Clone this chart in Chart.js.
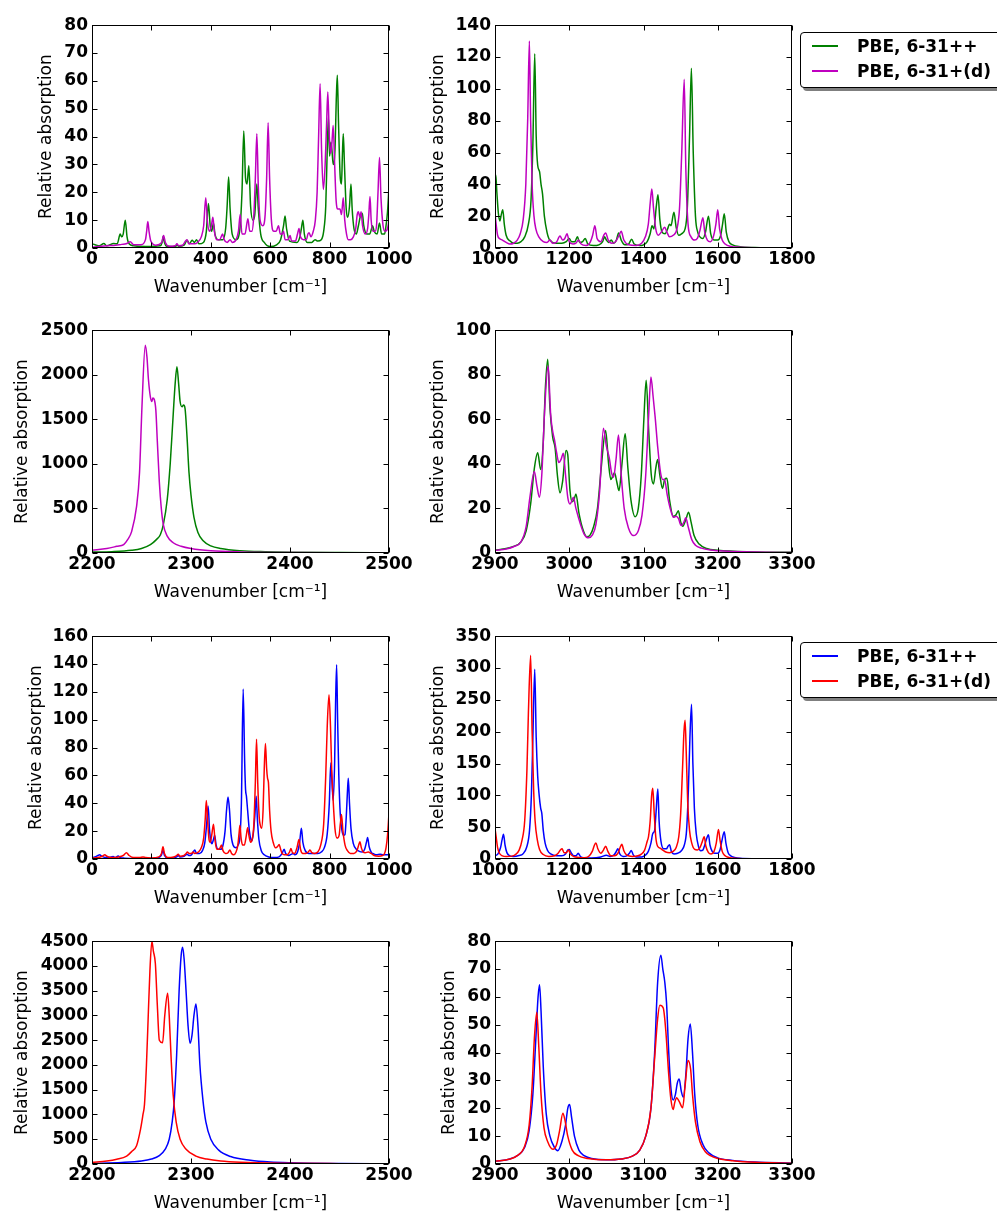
<!DOCTYPE html>
<html>
<head>
<meta charset="utf-8">
<script src="https://cdn.jsdelivr.net/npm/chart.js@4.4.0/dist/chart.umd.min.js"></script>
<style>
  body { margin: 0; background: #fff; font-family: 'DejaVu Sans', sans-serif; }
  #page { position: relative; width: 997px; height: 1213px; overflow: hidden; background: #fff; }
  #page canvas { position: absolute; }
  .legend { position: absolute; left: 800px; width: 230px; height: 56px; box-sizing: border-box;
            border: 1px solid #000; border-radius: 4px; background: #fff; box-shadow: 3px 3px 0 rgba(0,0,0,0.5); }
  .legend .item { position: absolute; left: 56px; font: bold 17px 'DejaVu Sans'; line-height: 20px; white-space: nowrap; color: #000; }
  .legend .swatch { position: absolute; left: -45px; top: 9px; width: 26px; height: 1.5px; }
</style>
</head>
<body>
<div id="page"></div>
<script>
// Series labels (legends)
const labelsTop = ['PBE, 6-31++', 'PBE, 6-31+(d)'];
const labelsBottom = ['PBE, 6-31++', 'PBE, 6-31+(d)'];

// Tick labels per panel
const xTicksA = [0, 200, 400, 600, 800, 1000];
const xTicksB = [1000, 1200, 1400, 1600, 1800];
const xTicksC = [2200, 2300, 2400, 2500];
const xTicksD = [2900, 3000, 3100, 3200, 3300];
const yTicks1 = [0, 10, 20, 30, 40, 50, 60, 70, 80];
const yTicks2 = [0, 20, 40, 60, 80, 100, 120, 140];
const yTicks3 = [0, 500, 1000, 1500, 2000, 2500];
const yTicks4 = [0, 20, 40, 60, 80, 100];
const yTicks5 = [0, 20, 40, 60, 80, 100, 120, 140, 160];
const yTicks6 = [0, 50, 100, 150, 200, 250, 300, 350];
const yTicks7 = [0, 500, 1000, 1500, 2000, 2500, 3000, 3500, 4000, 4500];
const yTicks8 = [0, 10, 20, 30, 40, 50, 60, 70, 80];

// [wavenumber, absorption]
const g1 = [[0,1.5],[10,1.2],[25,0.8],[40,1.6],[50,0.8],[73,1.6],[85,1.5],[95,5],[100,4],[105,5],[112,10],[118,4],[125,1.5],[140,0.8],[180,0.5],[230,0.8],[236,2],[240,4.2],[244,2],[252,0.6],[280,0.5],[286,1],[292,0.6],[310,1],[320,2.8],[328,1.5],[337,2.8],[345,2],[352,3],[360,1.5],[375,2],[385,6],[392,16],[398,8],[403,6],[409,9],[414,5],[425,3],[440,3],[450,7],[455,15],[460,25.5],[465,14],[472,5],[485,3],[497,6],[505,20],[511,42],[517,25],[522,23],[528,29.5],[534,15],[542,10],[548,12],[555,23],[560,14],[568,5],[580,2],[600,0.5],[620,1],[635,3],[645,8],[650,11.5],[655,7],[665,2.5],[690,2],[700,4],[705,7],[710,10],[715,5],[725,2],[740,2],[751,3],[760,2.5],[772,3],[780,6],[787,15],[792,35],[796,47],[800,33],[804,38],[808,35],[812,30],[818,35],[823,55],[826,62],[830,45],[836,25],[840,23],[843,33],[846,41],[850,30],[856,14],[861,11],[867,15],[872,23],[876,14],[882,7],[890,5],[897,8],[905,12],[910,12.5],[915,8],[925,5],[935,5],[945,8],[950,6],[960,5],[968,9],[975,5],[985,5],[990,8],[995,13],[1000,22]];
const m1 = [[0,0.3],[20,0.5],[50,0.8],[80,1],[100,1.3],[115,1.5],[129,2.2],[140,1.2],[165,1.2],[180,3],[184,6],[188,9.5],[192,6],[198,2.5],[215,1],[235,2],[241,4.5],[247,2],[260,0.6],[280,0.8],[286,1.5],[292,0.8],[305,1],[315,2.5],[320,3],[326,1.5],[335,1.5],[345,1.5],[355,2],[368,4],[376,8],[383,18],[389,9],[396,6],[402,8],[407,11],[412,6],[420,3],[430,3],[440,5],[445,3],[455,2],[465,3],[472,2],[485,3],[493,6],[499,12],[505,5],[515,5],[525,10.5],[531,6],[538,6],[545,12],[550,25],[555,41],[560,22],[566,10],[575,8],[583,12],[588,25],[593,45],[598,25],[604,10],[612,6],[620,6],[628,8],[634,5],[640,5],[645,6],[650,3],[660,3],[667,4.5],[672,2.5],[685,2.5],[692,5],[697,7],[702,4],[712,3],[722,3],[727,5],[731,5.5],[737,4],[745,6],[752,10],[758,20],[763,40],[768,59],[773,35],[779,21],[785,30],[790,45],[794,56],[799,40],[804,34],[808,38],[812,44],[817,30],[822,17],[828,14],[835,14],[840,12],[846,18],[851,10],[857,5],[863,3],[870,3],[880,4],[888,7],[893,12],[897,13],[902,11],[906,13],[911,8],[920,5],[928,7],[932,12],[936,18.5],[940,10],[946,6],[953,6],[958,8],[963,20],[968,32.5],[973,18],[980,8],[987,6],[995,7],[1000,10]];

const g2 = [[1000,44],[1002,46],[1005,35],[1009,22],[1013,17],[1017,21],[1021,24],[1025,15],[1030,8],[1040,4.5],[1050,3],[1060,3],[1070,4],[1080,7],[1090,15],[1097,30],[1102,65],[1107,122],[1111,70],[1115,52],[1120,48],[1124,40],[1128,34],[1133,20],[1140,10],[1145,6],[1150,4.5],[1155,3.5],[1165,3],[1180,3],[1192,4],[1200,6],[1206,4],[1215,4],[1222,7],[1228,3.5],[1236,4],[1243,6],[1250,2.5],[1265,1.5],[1280,2],[1290,4],[1295,7],[1300,5],[1306,3.5],[1313,5],[1320,3],[1327,5],[1333,9.5],[1340,5],[1350,2],[1360,2.5],[1368,5.5],[1375,2.5],[1390,1.5],[1400,2],[1410,4],[1418,9],[1423,14],[1428,12],[1434,25],[1439,33.5],[1444,18],[1450,10],[1458,9],[1465,12],[1470,15],[1474,14],[1482,22.5],[1488,13],[1495,8],[1503,9],[1512,12],[1518,25],[1524,70],[1529,113],[1534,60],[1540,20],[1546,10],[1552,7],[1560,6],[1567,10],[1575,20],[1581,9],[1590,5],[1600,5],[1608,8],[1613,15],[1617.5,21.5],[1623,10],[1630,4],[1640,2],[1660,0.8],[1700,0.3],[1750,0.15],[1800,0.1]];
const m2 = [[1000,22],[1003,15],[1007,8],[1012,6],[1020,5],[1030,3.5],[1040,2.5],[1050,3],[1060,5],[1068,9],[1076,18],[1083,40],[1088,80],[1092.6,130],[1096,80],[1100,40],[1105,20],[1110,12],[1118,7],[1130,4],[1140,3.5],[1148,5],[1155,3],[1165,3.5],[1175,7.5],[1182,5],[1188,6],[1194,9],[1200,4],[1210,2.5],[1218,3],[1225,5],[1232,2.5],[1245,1.5],[1255,3],[1263,8],[1269,14],[1275,6],[1285,4],[1293,8],[1298,9.5],[1305,5],[1315,3],[1325,4],[1334,8],[1340,10.5],[1347,5],[1360,2],[1380,1.5],[1395,3],[1405,7],[1413,15],[1418,28],[1422.5,37],[1427,25],[1433,12],[1440,8],[1448,10],[1457,13],[1463,10],[1470,7],[1480,8],[1490,12],[1497,25],[1503,60],[1509.7,106],[1514,50],[1520,15],[1528,7],[1538,5],[1545,6],[1552,11],[1560,19],[1565,10],[1572,5],[1580,4],[1588,7],[1595,15],[1600,24],[1605,12],[1612,5],[1620,2.5],[1635,1],[1660,0.5],[1700,0.2],[1800,0.1]];

const g3 = [[2200,10],[2220,15],[2240,30],[2250,50],[2259,93],[2265,150],[2269,204],[2272,315],[2276,600],[2279,1000],[2282,1550],[2284,1900],[2285.8,2090],[2287.5,1900],[2289,1700],[2291,1640],[2292.5,1660],[2294,1620],[2296,1300],[2298,900],[2300,650],[2303,400],[2307,230],[2312,140],[2320,80],[2330,50],[2350,25],[2375,14],[2400,9],[2450,5],[2500,3]];
const m3 = [[2200,30],[2215,50],[2225,75],[2232,95],[2236,150],[2240,240],[2245,520],[2248,900],[2250.5,1650],[2253.8,2330],[2255.5,2200],[2257,1950],[2259,1750],[2260.5,1700],[2261.5,1740],[2263,1720],[2264.5,1600],[2266,1250],[2268,800],[2270,500],[2272,320],[2276,190],[2282,115],[2290,75],[2300,50],[2320,25],[2350,12],[2400,6],[2450,3],[2500,2]];

const g4 = [[2900,1.3],[2915,2],[2925,3],[2935,5],[2942,10],[2948,22],[2953,38],[2957.5,45],[2961.5,37.5],[2965,50],[2968,75],[2971,87],[2974,65],[2977.7,52],[2981,47],[2984,35],[2987.6,27],[2991,32],[2995.7,46],[2998,44],[3001,28],[3004,23],[3006.5,24],[3009,26.5],[3013,18],[3018,11],[3023.6,7.3],[3028,8],[3033,12],[3038,20],[3043,38],[3049,55],[3053,40],[3056,33],[3061,36],[3064,32],[3067,28],[3071,40],[3075.3,53.5],[3079,38],[3083,24],[3088.8,16.3],[3093,20],[3097,35],[3100.5,60],[3103.6,77.5],[3107,55],[3110.5,35],[3113.5,31],[3116.5,38],[3119,42],[3122,35],[3125.6,29],[3128.5,33],[3131.5,33.5],[3135,24],[3140,16.5],[3143.5,17],[3147,19],[3150,14],[3153,12],[3157,15],[3160.7,18.3],[3164,14],[3168,8],[3175,4],[3185,2],[3200,1.2],[3250,0.5],[3300,0.3]];
const m4 = [[2900,1.2],[2915,1.8],[2925,2.8],[2935,5],[2942,12],[2947,25],[2953,36.6],[2956.5,30],[2959.8,25],[2963,35],[2967,65],[2971.5,84],[2975,62],[2978,54],[2980,51],[2983,45],[2986,40.6],[2989,42],[2992,44.8],[2995,35],[2998,25],[3001,22],[3003,23],[3005.6,25],[3009,20],[3015,13],[3020,8.5],[3025.8,6.8],[3031,8],[3036,13],[3041,28],[3046,56],[3050,48],[3054,42.5],[3057,36],[3059.6,34],[3063,42],[3066.3,53],[3070,35],[3074,20],[3080,11],[3086.5,7.8],[3093,10],[3098,17],[3103,35],[3107,62],[3110,79],[3113,70],[3115.7,61],[3119,48],[3123,36],[3126,33],[3128.3,33],[3132,26],[3136,20],[3140.4,16],[3144,16.5],[3147,15.5],[3150.8,12.3],[3154,13.5],[3157,15.8],[3160,12],[3165,6],[3170,3.5],[3178,2.2],[3190,1.3],[3200,1],[3250,0.4],[3300,0.2]];

const b5 = [[0,1],[10,1.5],[20,2.5],[26,3],[32,2],[45,1],[60,1.2],[71,1.8],[78,1],[88,2.2],[95,1],[110,0.6],[150,0.4],[200,0.4],[225,1],[234,3],[239,6.5],[244,2.5],[255,0.8],[275,0.8],[285,1.5],[290,2.5],[296,1.5],[310,2],[320,3.5],[326,2.5],[335,3],[341,5],[346,6.5],[352,4],[362,4],[372,6],[380,12],[386,25],[391,38],[396,20],[401,12],[404,11],[409,14],[413,17],[418,10],[425,7],[433,7],[440,9],[448,20],[453,35],[458,44.5],[463,35],[468,18],[475,10],[485,8],[492,10],[498,16],[503,40],[509,122],[514,70],[517,50],[520,45],[524,35],[530,20],[535,14],[538,13],[543,18],[548,30],[553,45],[557,28],[562,14],[570,6],[580,3],[595,1.5],[615,1],[630,1.5],[640,4],[647,7],[652,4],[662,2.5],[672,3.5],[677,4],[683,3],[692,5],[699,12],[705,22],[710,12],[718,6],[730,4],[745,4],[760,4],[772,5],[782,8],[792,18],[799,40],[804,69],[808,55],[812,42],[817,70],[820,110],[823.6,139.5],[827,100],[831,60],[836,32],[842,20],[847,17],[851.7,17.5],[856,30],[860,48],[863,58],[867,40],[872,22],[880,11],[890,7],[900,5.5],[910,5],[918,7],[924,12],[928,15.5],[933,9],[940,5],[950,3.5],[958,3],[970,3.5],[980,3],[990,3],[1000,3]];
const r5 = [[0,0.5],[20,1],[35,2],[43,3],[50,2],[65,1],[90,1.5],[105,2.5],[116,4.5],[125,2.5],[140,1],[160,1],[172,1.5],[180,1],[200,0.8],[225,1.5],[234,4],[239,8.8],[244,4],[255,1],[275,1.5],[285,2.5],[290,3.5],[296,2],[310,2.5],[317,4],[321,5],[327,4],[335,4],[340,5],[346,4],[358,5],[368,8],[376,15],[381,28],[385,42],[390,25],[394,14],[398,12],[403,17],[409,25],[414,14],[420,7],[428,7],[436,10],[441,6],[450,4],[458,4.5],[464,6.5],[470,4],[477,3],[485,5],[491,10],[495,18],[498,24],[502,15],[507,10],[513,10],[519,16],[524,22.5],[529,16],[534,12],[538,13],[545,25],[550,55],[554,86],[558,55],[563,30],[567,24],[571,22],[576,35],[580,65],[584,83],[588,65],[591,58],[594,55],[598,35],[603,20],[610,12],[618,8],[625,9],[630,10.5],[635,7],[640,4],[648,3],[657,3],[665,5],[670,7.5],[675,4.5],[682,4],[690,8],[697,14],[702,7],[710,4],[720,4],[728,5],[734,6.5],[740,4.5],[750,4],[760,5],[770,10],[780,25],[787,60],[792,95],[798,118],[803,95],[807,65],[812,42],[818,22],[825,15],[832,17],[836,25],[840,32],[845,20],[852,10],[860,6],[870,4],[882,4],[892,6],[898,10],[902,12.4],[907,8],[913,5],[920,4.5],[930,5],[940,4],[950,2.5],[965,2],[978,2.5],[985,4],[990,8],[995,17],[1000,33]];

const b6 = [[1000,5],[1008,8],[1015,18],[1019,30],[1023,39],[1027,22],[1032,10],[1040,5],[1050,4],[1065,5.5],[1075,8],[1085,18],[1093,45],[1098,100],[1102,190],[1107,298],[1111,190],[1115,130],[1119,100],[1123,80],[1126,72],[1130,45],[1135,25],[1142,13],[1150,8],[1165,5],[1180,5],[1190,8],[1196,14],[1200,15],[1205,10],[1212,5],[1218,5],[1224,9],[1230,4],[1240,2],[1260,1.5],[1285,3],[1300,6],[1310,4],[1320,6],[1326,11],[1331,16],[1336,8],[1345,4],[1355,5],[1362,9],[1367,13.5],[1372,7],[1380,3],[1395,3],[1405,6],[1413,12],[1420,25],[1425,40],[1430,45],[1434,75],[1438.6,110],[1442,60],[1447,28],[1454,16],[1462,16],[1466,20],[1470,22.5],[1475,12],[1482,8],[1492,9],[1502,13],[1510,22],[1516,45],[1521,110],[1525,190],[1529.4,243],[1533,150],[1537,80],[1542,40],[1548,20],[1554,13],[1560,14],[1565,22],[1570,32],[1575,38],[1579,22],[1585,12],[1592,9],[1600,9],[1606,14],[1611,28],[1617.5,43],[1622,25],[1628,10],[1635,5],[1645,2.5],[1660,1],[1700,0.4],[1750,0.2],[1800,0.1]];
const r6 = [[1000,48],[1003,35],[1007,18],[1012,9],[1020,5],[1030,4],[1045,4.5],[1055,7],[1065,14],[1073,30],[1080,60],[1086,140],[1090,230],[1096,320],[1100,200],[1104,110],[1108,60],[1114,30],[1120,15],[1130,7],[1145,4],[1160,5],[1170,9],[1176,14],[1180.7,16],[1186,10],[1192,10],[1198,14],[1203,8],[1212,4],[1225,2.5],[1240,2],[1252,4],[1262,12],[1268,22],[1272,25],[1277,16],[1285,9],[1292,14],[1298,20],[1304,12],[1312,5],[1322,5],[1332,10],[1337,18],[1341.6,23],[1347,13],[1355,6],[1370,4],[1385,5],[1395,8],[1403,14],[1410,28],[1413.5,35],[1418,60],[1422,100],[1425,111],[1429,70],[1433,35],[1438,20],[1445,17],[1452,14],[1460,11],[1470,10],[1480,12],[1488,18],[1495,35],[1500,70],[1505,140],[1509,200],[1512,218],[1515,170],[1519,90],[1524,45],[1530,25],[1538,15],[1545,14],[1552,18],[1557,25],[1563.6,35],[1568,20],[1575,10],[1582,8],[1590,12],[1596,25],[1602,46.5],[1606,30],[1612,12],[1620,5],[1630,2.5],[1645,1.2],[1670,0.5],[1700,0.3],[1800,0.1]];

const b7 = [[2200,12],[2230,30],[2250,60],[2260,100],[2268,170],[2274,300],[2278,500],[2281,850],[2283,1250],[2285.5,2200],[2288,3500],[2290,4200],[2291.5,4380],[2293,4150],[2295,3500],[2297,2800],[2299,2440],[2301,2600],[2303,3000],[2305,3230],[2307,2800],[2309,2000],[2312,1300],[2315,850],[2320,500],[2328,280],[2340,150],[2360,75],[2380,40],[2400,25],[2450,10],[2500,5]];
const r7 = [[2200,35],[2215,60],[2225,95],[2235,160],[2240,250],[2245,370],[2249,700],[2251.5,1000],[2253,1200],[2255,2000],[2257,3100],[2258.5,3900],[2260.5,4500],[2262,4300],[2264,4050],[2266,3200],[2268,2500],[2271.3,2450],[2273.5,3000],[2276.4,3450],[2278,3000],[2280,2100],[2282,1400],[2285,850],[2289,500],[2295,300],[2305,160],[2316,100],[2330,60],[2350,35],[2400,14],[2450,7],[2500,4]];

const b8 = [[2900,1],[2920,1.8],[2930,3],[2940,6],[2946,12],[2951,25],[2955,45],[2958,60],[2960,64.4],[2962,55],[2965,35],[2969,18],[2974,10],[2980,6],[2984.7,4.8],[2990,8],[2995,14],[2998,20],[3000.5,21.4],[3003,17],[3007,10],[3013,5],[3020,3],[3030,2],[3050,1.5],[3070,1.8],[3085,2.8],[3095,5],[3103,10],[3110,20],[3115,40],[3119,65],[3123.4,75],[3126,70],[3128.8,65],[3131,58],[3134,40],[3137,27],[3140,23],[3143,25],[3145.5,29],[3148,30.5],[3151,26],[3153.6,24],[3157,32],[3160,45],[3163,50.3],[3166,40],[3169,25],[3173,14],[3180,7],[3188,4],[3200,2.2],[3220,1.3],[3250,0.7],[3300,0.3]];
const r8 = [[2900,1],[2920,1.8],[2930,3],[2940,6.5],[2946,14],[2950,28],[2953,45],[2956.3,54.5],[2959,42],[2962,25],[2966,13],[2971,8],[2978,5.3],[2983,7],[2987,12],[2991.4,18.2],[2994,16],[2998,10],[3004,5],[3012,3],[3025,2],[3050,1.5],[3070,1.8],[3085,2.8],[3095,5],[3103,10],[3110,20],[3115,38],[3119,52],[3122,57],[3126.6,56],[3130,48],[3134,32],[3137,23],[3140,19.6],[3142,22],[3144.6,23.8],[3148,22.5],[3152.7,20.2],[3156,28],[3160,37.2],[3163.5,34],[3166,25],[3170,15],[3176,8],[3183,4.5],[3190,3],[3200,2],[3220,1.2],[3250,0.6],[3300,0.3]];

const GREEN = '#008000', MAGENTA = '#bf00bf', BLUE = '#0000ff', RED = '#ff0000';
const fontTick = { family: 'DejaVu Sans', size: 17, weight: 'bold' };
const fontTitle = { family: 'DejaVu Sans', size: 17 };

// layout of one panel canvas (plot box 297 x 225 inside)
const AX_W = 92, AX_H = 62, PAD_T = 12, PAD_R = 30, PLOT_W = 297, PLOT_H = 225;
const colLeft = [92, 495];
const rowTop = [23, 328, 634, 939];

const panels = [
  { a: g1, b: m1, c: [GREEN, MAGENTA], xt: xTicksA, yt: yTicks1, col: 0, row: 0, yOff: 45.7 },
  { a: g2, b: m2, c: [GREEN, MAGENTA], xt: xTicksB, yt: yTicks2, col: 1, row: 0, yOff: 56.7 },
  { a: g3, b: m3, c: [GREEN, MAGENTA], xt: xTicksC, yt: yTicks3, col: 0, row: 1, yOff: 69 },
  { a: g4, b: m4, c: [GREEN, MAGENTA], xt: xTicksD, yt: yTicks4, col: 1, row: 1, yOff: 56.7 },
  { a: b5, b: r5, c: [BLUE, RED], xt: xTicksA, yt: yTicks5, col: 0, row: 2, yOff: 55.7 },
  { a: b6, b: r6, c: [BLUE, RED], xt: xTicksB, yt: yTicks6, col: 1, row: 2, yOff: 56.7 },
  { a: b7, b: r7, c: [BLUE, RED], xt: xTicksC, yt: yTicks7, col: 0, row: 3, yOff: 69 },
  { a: b8, b: r8, c: [BLUE, RED], xt: xTicksD, yt: yTicks8, col: 1, row: 3, yOff: 45.7 },
];

// matplotlib-style box with inward ticks on all four sides
const frame = {
  id: 'frame',
  afterDraw(chart) {
    const { ctx, chartArea: a, scales: { x, y } } = chart;
    const L = Math.round(a.left) + 0.5, R = Math.round(a.right) - 0.5;
    const T = Math.round(a.top) + 0.5, B = Math.round(a.bottom) - 0.5;
    ctx.save();
    ctx.strokeStyle = '#000';
    ctx.lineWidth = 1;
    ctx.beginPath();
    x.ticks.forEach((t) => {
      const p = Math.round(x.getPixelForValue(t.value)) + 0.5;
      ctx.moveTo(p, B); ctx.lineTo(p, B - 5);
      ctx.moveTo(p, T); ctx.lineTo(p, T + 5);
    });
    y.ticks.forEach((t) => {
      const p = Math.round(y.getPixelForValue(t.value)) + 0.5;
      ctx.moveTo(L, p); ctx.lineTo(L + 5, p);
      ctx.moveTo(R, p); ctx.lineTo(R - 5, p);
    });
    ctx.stroke();
    ctx.strokeRect(L, T, R - L, B - T);
    ctx.restore();
  },
};

const toXY = (arr) => arr.map(([x, y]) => ({ x, y }));

function makePanel(p) {
  const page = document.getElementById('page');
  const cv = document.createElement('canvas');
  cv.width = AX_W + PLOT_W + PAD_R;
  cv.height = PAD_T + PLOT_H + AX_H;
  cv.style.left = (colLeft[p.col] - AX_W) + 'px';
  cv.style.top = (rowTop[p.row] - PAD_T) + 'px';
  page.appendChild(cv);

  const line = (data, color, order) => ({
    data: toXY(data), borderColor: color, borderWidth: 1.5, pointRadius: 0,
    fill: false, cubicInterpolationMode: 'monotone', order,
  });

  new Chart(cv.getContext('2d'), {
    type: 'line',
    data: { datasets: [line(p.a, p.c[0], 2), line(p.b, p.c[1], 1)] },
    options: {
      responsive: false, animation: false, devicePixelRatio: 1,
      layout: { padding: { top: PAD_T, right: PAD_R, bottom: 0, left: 0 } },
      plugins: { legend: { display: false }, tooltip: { enabled: false } },
      scales: {
        x: {
          type: 'linear', min: p.xt[0], max: p.xt[p.xt.length - 1],
          grid: { display: false, drawTicks: false }, border: { display: false },
          ticks: { stepSize: p.xt[1] - p.xt[0], autoSkip: false, maxRotation: 0, padding: 1,
                   color: '#000', font: fontTick, callback: (v) => String(v) },
          title: { display: true, text: 'Wavenumber [cm⁻¹]', color: '#000', font: fontTitle,
                   padding: { top: 0, bottom: AX_H - 10.2 - 39.4 } },
          afterFit: (s) => { s.height = AX_H; },
        },
        y: {
          type: 'linear', min: p.yt[0], max: p.yt[p.yt.length - 1],
          grid: { display: false, drawTicks: false }, border: { display: false },
          ticks: { stepSize: p.yt[1] - p.yt[0], autoSkip: false, padding: 4,
                   color: '#000', font: fontTick, callback: (v) => String(v) },
          title: { display: true, text: 'Relative absorption', color: '#000', font: fontTitle,
                   padding: { top: AX_W - 10.2 - p.yOff, bottom: 0 } },
          afterFit: (s) => { s.width = AX_W; },
        },
      },
    },
    plugins: [frame],
  });
}

function makeLegend(top, labels, colors) {
  const box = document.createElement('div');
  box.className = 'legend';
  box.style.top = top + 'px';
  labels.forEach((txt, i) => {
    const it = document.createElement('div');
    it.className = 'item';
    it.style.top = (3 + i * 25.3) + 'px';
    it.innerHTML = `<span class="swatch" style="background:${colors[i]}"></span>${txt}`;
    box.appendChild(it);
  });
  document.getElementById('page').appendChild(box);
}

panels.forEach(makePanel);
makeLegend(32, labelsTop, [GREEN, MAGENTA]);
makeLegend(642, labelsBottom, [BLUE, RED]);
</script>
</body>
</html>
